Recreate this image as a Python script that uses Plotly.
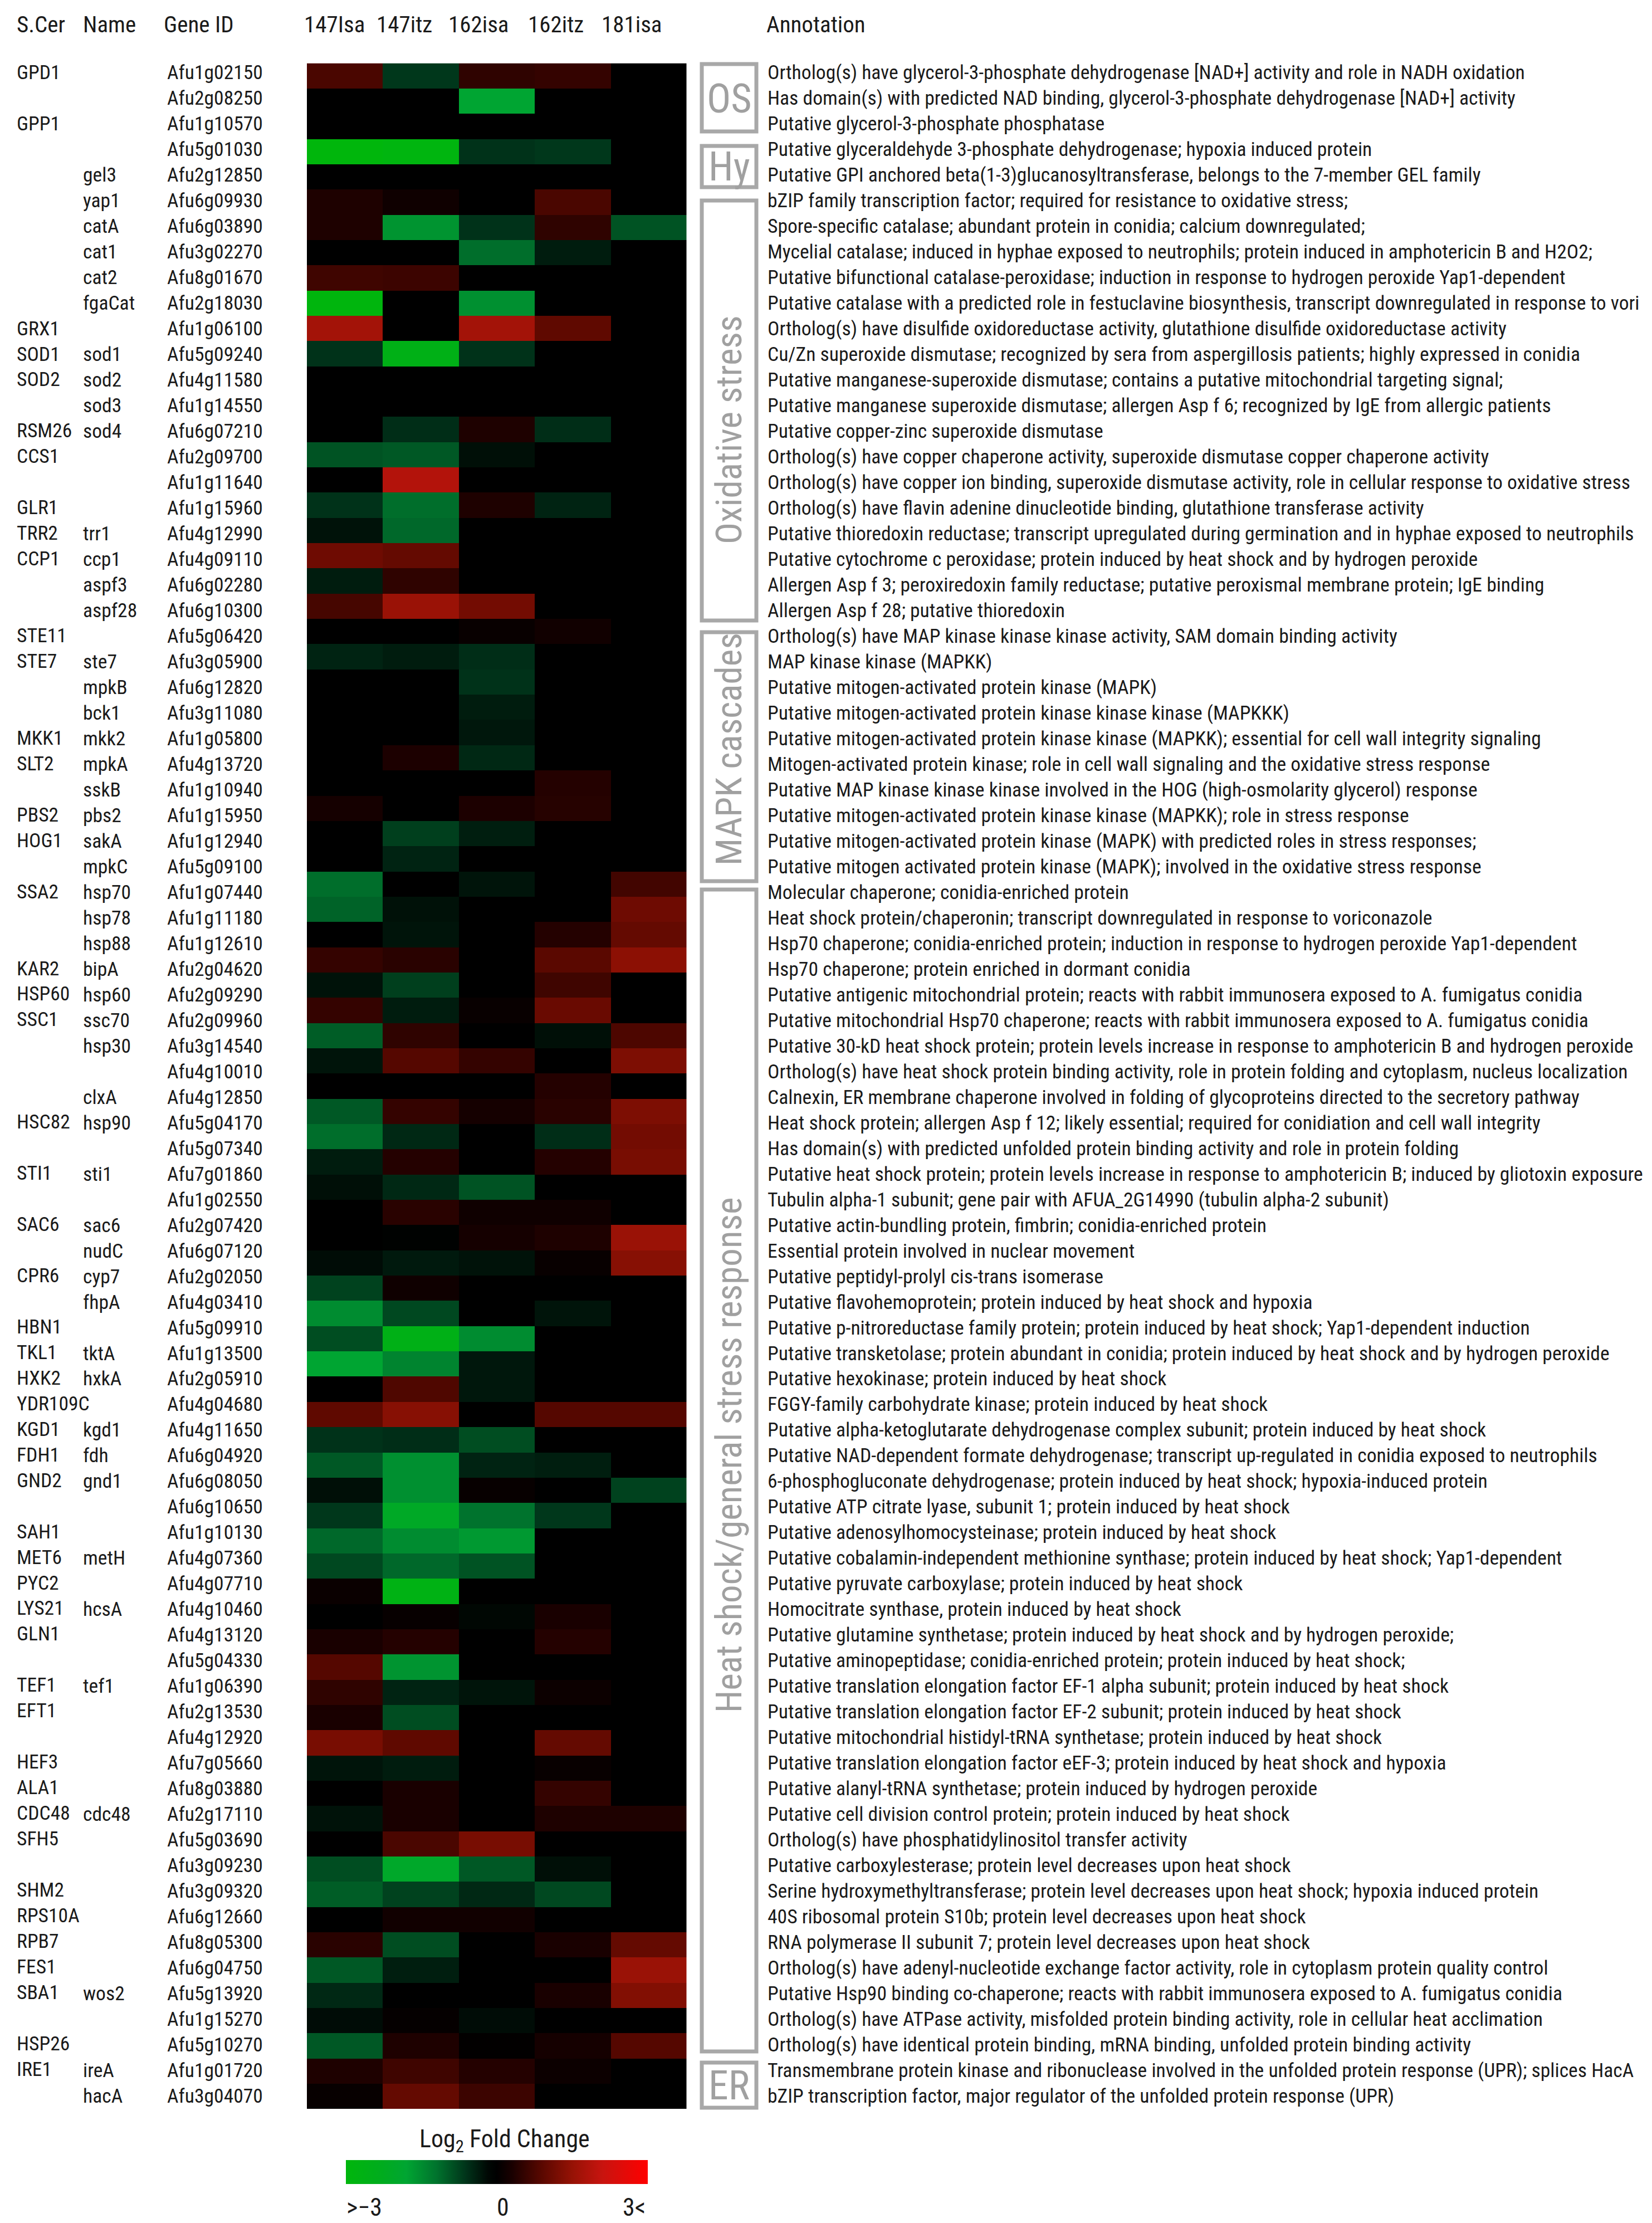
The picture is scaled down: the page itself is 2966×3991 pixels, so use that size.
import plotly.graph_objects as go

W, H = 2966, 3991
FONT = "Roboto Condensed"

columns = ["147Isa", "147itz", "162isa", "162itz", "181isa"]

# log2 fold change per heatmap row (top to bottom), columns as above
fold_change = [
 [.75,-.65,.5,.55,0],[0,0,-1.8,0,0],[0,0,0,0,0],[-3,-2.9,-.6,-.65,0],[0,0,0,0,0],
 [.35,.18,0,.75,0],[.35,-1.6,-.6,.5,-.9],[0,0,-1.15,-.38,0],[.65,.62,0,0,0],[-2.95,0,-1.55,0,0],
 [1.65,0,1.65,.95,0],[-.6,-2.6,-.6,0,0],[0,0,0,0,0],[0,0,0,0,0],[0,-.55,.35,-.55,0],
 [-.9,-.95,-.25,0,0],[0,1.85,0,0,0],[-.6,-1.15,.35,-.45,0],[-.28,-1.1,0,0,0],[1.1,1.0,0,0,0],
 [-.38,.5,0,0,0],[.72,1.55,1.15,0,0],[0,0,.1,.2,0],[-.45,-.38,-.55,0,0],[0,0,-.6,0,0],
 [0,0,-.38,0,0],[0,0,-.33,0,0],[0,.33,-.5,0,0],[0,0,0,.4,0],[.25,0,.33,.42,0],
 [0,-.72,-.4,0,0],[0,-.45,0,0,0],[-1.15,0,-.3,0,.68],[-1.05,-.27,0,0,1.1],[0,-.3,0,.4,1.0],
 [.55,.45,0,.9,1.4],[-.28,-.72,0,.65,0],[.55,-.38,.1,1.05,0],[-1.0,.5,0,-.25,.78],[-.3,.85,.55,0,1.25],
 [0,0,0,.4,0],[-.95,.55,.25,.45,1.25],[-1.15,-.5,0,-.55,1.15],[-.38,.4,0,.4,1.2],[-.25,-.5,-.9,0,0],
 [0,.45,.18,.18,0],[0,-.05,.25,.35,1.55],[-.22,-.35,-.28,.1,1.35],[-.75,.18,0,0,0],[-1.5,-.8,0,-.3,0],
 [-.85,-2.6,-1.5,0,0],[-1.8,-1.4,-.33,0,0],[0,.8,-.33,0,0],[.95,1.35,0,.85,.85],[-.6,-.55,-.85,0,0],
 [-.95,-1.55,-.45,-.4,0],[-.25,-1.55,.08,0,-.75],[-.65,-2.1,-1.2,-.65,0],[-1.1,-1.5,-1.65,0,0],[-.8,-1.1,-.9,0,0],
 [.12,-2.7,0,0,0],[0,.08,-.15,.3,0],[.3,.4,0,.4,0],[.85,-1.6,0,0,0],[.5,-.45,-.3,.15,0],
 [.3,-.85,0,0,0],[1.2,.95,0,1.0,0],[-.3,-.38,0,.1,0],[0,.3,0,.55,0],[-.28,.3,0,.35,.35],
 [0,.75,1.2,0,0],[-.85,-2.0,-.95,-.25,0],[-1.0,-.75,-.5,-.8,0],[0,.2,.2,0,0],[.45,-.85,0,.3,1.0],
 [-.95,-.4,0,0,1.55],[-.5,0,0,.3,1.3],[-.22,.06,-.22,0,0],[-.95,.35,.03,.25,.85],[.35,.65,.4,.15,0],
 [.08,1.0,.62,0,0],
]

scer = ["GPD1","","GPP1","","","","","","","","GRX1","SOD1","SOD2","","RSM26","CCS1","","GLR1","TRR2","CCP1",
 "","","STE11","STE7","","","MKK1","SLT2","","PBS2","HOG1","","SSA2","","","KAR2","HSP60","SSC1","","",
 "","HSC82","","STI1","","SAC6","","CPR6","","HBN1","TKL1","HXK2","YDR109C","KGD1","FDH1","GND2","","SAH1","MET6","PYC2",
 "LYS21","GLN1","","TEF1","EFT1","","HEF3","ALA1","CDC48","SFH5","","SHM2","RPS10A","RPB7","FES1","SBA1","","HSP26","IRE1",""]

names = ["","","","","gel3","yap1","catA","cat1","cat2","fgaCat","","sod1","sod2","sod3","sod4","","","","trr1","ccp1",
 "aspf3","aspf28","","ste7","mpkB","bck1","mkk2","mpkA","sskB","pbs2","sakA","mpkC","hsp70","hsp78","hsp88","bipA","hsp60","ssc70","hsp30","",
 "clxA","hsp90","","sti1","","sac6","nudC","cyp7","fhpA","","tktA","hxkA","","kgd1","fdh","gnd1","","","metH","",
 "hcsA","","","tef1","","","","","cdc48","","","","","","","wos2","","","ireA","hacA"]

gene_ids = ["Afu1g02150","Afu2g08250","Afu1g10570","Afu5g01030","Afu2g12850","Afu6g09930","Afu6g03890","Afu3g02270","Afu8g01670","Afu2g18030",
 "Afu1g06100","Afu5g09240","Afu4g11580","Afu1g14550","Afu6g07210","Afu2g09700","Afu1g11640","Afu1g15960","Afu4g12990","Afu4g09110",
 "Afu6g02280","Afu6g10300","Afu5g06420","Afu3g05900","Afu6g12820","Afu3g11080","Afu1g05800","Afu4g13720","Afu1g10940","Afu1g15950",
 "Afu1g12940","Afu5g09100","Afu1g07440","Afu1g11180","Afu1g12610","Afu2g04620","Afu2g09290","Afu2g09960","Afu3g14540","Afu4g10010",
 "Afu4g12850","Afu5g04170","Afu5g07340","Afu7g01860","Afu1g02550","Afu2g07420","Afu6g07120","Afu2g02050","Afu4g03410","Afu5g09910",
 "Afu1g13500","Afu2g05910","Afu4g04680","Afu4g11650","Afu6g04920","Afu6g08050","Afu6g10650","Afu1g10130","Afu4g07360","Afu4g07710",
 "Afu4g10460","Afu4g13120","Afu5g04330","Afu1g06390","Afu2g13530","Afu4g12920","Afu7g05660","Afu8g03880","Afu2g17110","Afu5g03690",
 "Afu3g09230","Afu3g09320","Afu6g12660","Afu8g05300","Afu6g04750","Afu5g13920","Afu1g15270","Afu5g10270","Afu1g01720","Afu3g04070"]

annotations_text = [
 "Ortholog(s) have glycerol-3-phosphate dehydrogenase [NAD+] activity and role in NADH oxidation",
 "Has domain(s) with predicted NAD binding, glycerol-3-phosphate dehydrogenase [NAD+] activity",
 "Putative glycerol-3-phosphate phosphatase",
 "Putative glyceraldehyde 3-phosphate dehydrogenase; hypoxia induced protein",
 "Putative GPI anchored beta(1-3)glucanosyltransferase, belongs to the 7-member GEL family",
 "bZIP family transcription factor; required for resistance to oxidative stress;",
 "Spore-specific catalase; abundant protein in conidia; calcium downregulated;",
 "Mycelial catalase; induced in hyphae exposed to neutrophils; protein induced in amphotericin B and H2O2;",
 "Putative bifunctional catalase-peroxidase; induction in response to hydrogen peroxide Yap1-dependent",
 "Putative catalase with a predicted role in festuclavine biosynthesis, transcript downregulated in response to vori",
 "Ortholog(s) have disulfide oxidoreductase activity, glutathione disulfide oxidoreductase activity",
 "Cu/Zn superoxide dismutase; recognized by sera from aspergillosis patients; highly expressed in conidia",
 "Putative manganese-superoxide dismutase; contains a putative mitochondrial targeting signal;",
 "Putative manganese superoxide dismutase; allergen Asp f 6; recognized by IgE from allergic patients",
 "Putative copper-zinc superoxide dismutase",
 "Ortholog(s) have copper chaperone activity, superoxide dismutase copper chaperone activity",
 "Ortholog(s) have copper ion binding, superoxide dismutase activity, role in cellular response to oxidative stress",
 "Ortholog(s) have flavin adenine dinucleotide binding, glutathione transferase activity",
 "Putative thioredoxin reductase; transcript upregulated during germination and in hyphae exposed to neutrophils",
 "Putative cytochrome c peroxidase; protein induced by heat shock and by hydrogen peroxide",
 "Allergen Asp f 3; peroxiredoxin family reductase; putative peroxismal membrane protein; IgE binding",
 "Allergen Asp f 28; putative thioredoxin",
 "Ortholog(s) have MAP kinase kinase kinase activity, SAM domain binding activity",
 "MAP kinase kinase (MAPKK)",
 "Putative mitogen-activated protein kinase (MAPK)",
 "Putative mitogen-activated protein kinase kinase kinase (MAPKKK)",
 "Putative mitogen-activated protein kinase kinase (MAPKK); essential for cell wall integrity signaling",
 "Mitogen-activated protein kinase; role in cell wall signaling and the oxidative stress response",
 "Putative MAP kinase kinase kinase involved in the HOG (high-osmolarity glycerol) response",
 "Putative mitogen-activated protein kinase kinase (MAPKK); role in stress response",
 "Putative mitogen-activated protein kinase (MAPK) with predicted roles in stress responses;",
 "Putative mitogen activated protein kinase (MAPK); involved in the oxidative stress response",
 "Molecular chaperone; conidia-enriched protein",
 "Heat shock protein/chaperonin; transcript downregulated in response to voriconazole",
 "Hsp70 chaperone; conidia-enriched protein; induction in response to hydrogen peroxide Yap1-dependent",
 "Hsp70 chaperone; protein enriched in dormant conidia",
 "Putative antigenic mitochondrial protein; reacts with rabbit immunosera exposed to A. fumigatus conidia",
 "Putative mitochondrial Hsp70 chaperone; reacts with rabbit immunosera exposed to A. fumigatus conidia",
 "Putative 30-kD heat shock protein; protein levels increase in response to amphotericin B and hydrogen peroxide",
 "Ortholog(s) have heat shock protein binding activity, role in protein folding and cytoplasm, nucleus localization",
 "Calnexin, ER membrane chaperone involved in folding of glycoproteins directed to the secretory pathway",
 "Heat shock protein; allergen Asp f 12; likely essential; required for conidiation and cell wall integrity",
 "Has domain(s) with predicted unfolded protein binding activity and role in protein folding",
 "Putative heat shock protein; protein levels increase in response to amphotericin B; induced by gliotoxin exposure",
 "Tubulin alpha-1 subunit; gene pair with AFUA_2G14990 (tubulin alpha-2 subunit)",
 "Putative actin-bundling protein, fimbrin; conidia-enriched protein",
 "Essential protein involved in nuclear movement",
 "Putative peptidyl-prolyl cis-trans isomerase",
 "Putative flavohemoprotein; protein induced by heat shock and hypoxia",
 "Putative p-nitroreductase family protein; protein induced by heat shock; Yap1-dependent induction",
 "Putative transketolase; protein abundant in conidia; protein induced by heat shock and by hydrogen peroxide",
 "Putative hexokinase; protein induced by heat shock",
 "FGGY-family carbohydrate kinase; protein induced by heat shock",
 "Putative alpha-ketoglutarate dehydrogenase complex subunit; protein induced by heat shock",
 "Putative NAD-dependent formate dehydrogenase; transcript up-regulated in conidia exposed to neutrophils",
 "6-phosphogluconate dehydrogenase; protein induced by heat shock; hypoxia-induced protein",
 "Putative ATP citrate lyase, subunit 1; protein induced by heat shock",
 "Putative adenosylhomocysteinase; protein induced by heat shock",
 "Putative cobalamin-independent methionine synthase; protein induced by heat shock; Yap1-dependent",
 "Putative pyruvate carboxylase; protein induced by heat shock",
 "Homocitrate synthase, protein induced by heat shock",
 "Putative glutamine synthetase; protein induced by heat shock and by hydrogen peroxide;",
 "Putative aminopeptidase; conidia-enriched protein; protein induced by heat shock;",
 "Putative translation elongation factor EF-1 alpha subunit; protein induced by heat shock",
 "Putative translation elongation factor EF-2 subunit; protein induced by heat shock",
 "Putative mitochondrial histidyl-tRNA synthetase; protein induced by heat shock",
 "Putative translation elongation factor eEF-3; protein induced by heat shock and hypoxia",
 "Putative alanyl-tRNA synthetase; protein induced by hydrogen peroxide",
 "Putative cell division control protein; protein induced by heat shock",
 "Ortholog(s) have phosphatidylinositol transfer activity",
 "Putative carboxylesterase; protein level decreases upon heat shock",
 "Serine hydroxymethyltransferase; protein level decreases upon heat shock; hypoxia induced protein",
 "40S ribosomal protein S10b; protein level decreases upon heat shock",
 "RNA polymerase II subunit 7; protein level decreases upon heat shock",
 "Ortholog(s) have adenyl-nucleotide exchange factor activity, role in cytoplasm protein quality control",
 "Putative Hsp90 binding co-chaperone; reacts with rabbit immunosera exposed to A. fumigatus conidia",
 "Ortholog(s) have ATPase activity, misfolded protein binding activity, role in cellular heat acclimation",
 "Ortholog(s) have identical protein binding, mRNA binding, unfolded protein binding activity",
 "Transmembrane protein kinase and ribonuclease involved in the unfolded protein response (UPR); splices HacA",
 "bZIP transcription factor, major regulator of the unfolded protein response (UPR)",
]

group_names = ["OS", "Hy", "Oxidative stress", "MAPK cascades", "Heat shock/general stress response", "ER"]

colorscale = [
 [0.00, "rgb(0,182,12)"], [0.12, "rgb(0,172,30)"], [0.20, "rgb(0,165,50)"], [0.30, "rgb(0,115,45)"],
 [0.40, "rgb(0,50,25)"], [0.47, "rgb(0,8,4)"], [0.50, "rgb(0,0,0)"], [0.55, "rgb(25,0,0)"],
 [0.65, "rgb(90,8,0)"], [0.75, "rgb(150,18,5)"], [0.85, "rgb(200,20,15)"], [1.00, "rgb(255,0,0)"],
]

def px(x): return x / W
def py(y): return 1 - y / H

HEAT_L, HEAT_R, HEAT_T, HEAT_B = 551, 1232.5, 113.5, 3786
TXT = "#1a1a1a"
GRAY = "#a8a8a8"
GTXT = "#a0a0a0"
FS = 35.6

fig = go.Figure()
fig.add_trace(go.Heatmap(
    z=fold_change, x=columns, y=list(range(len(fold_change))),
    zmin=-3, zmax=3, colorscale=colorscale, xgap=0, ygap=0, hoverinfo="skip",
    colorbar=dict(orientation="h", lenmode="pixels", len=542, thicknessmode="pixels", thickness=43,
                  x=px(621), xanchor="left", y=py(3921), yanchor="bottom", xpad=0, ypad=0,
                  outlinewidth=0, ticks="", showticklabels=False),
))
# invisible trace that holds the label axis (labels have a slightly different row pitch than the cells)
fig.add_trace(go.Scatter(x=[columns[0]], y=[0], yaxis="y2", mode="markers",
                         marker=dict(opacity=0), showlegend=False, hoverinfo="skip"))

LBL_TOP, LBL_PITCH = 130, 45.99
anns = []
def text(x, y, s, size=FS, anchor="left", yref="paper", color=TXT, angle=0, weight=400):
    anns.append(dict(x=x, y=y, xref="paper", yref=yref, text=s, showarrow=False, xanchor=anchor,
                     yanchor="middle", align=anchor, textangle=angle,
                     font=dict(family=FONT, size=size, color=color, weight=weight), borderpad=0))

for i, s in enumerate(scer):
    if s: text(px(29), i - 0.0007 * i, s, yref="y2")
for i, s in enumerate(names):
    if s: text(px(148), i, s, yref="y2")
for i, s in enumerate(gene_ids):
    text(px(298.5), i, s, yref="y2")
for i, s in enumerate(annotations_text):
    text(px(1377), i, s, yref="y2")

hy = 44
for x, s in [(29, "S.Cer"), (148, "Name"), (293, "Gene ID"), (545, "147Isa"), (675, "147itz"),
             (804, "162isa"), (947, "162itz"), (1079, "181isa"), (1375, "Annotation")]:
    text(px(x), py(hy), s, size=41)

# group boxes
boxes = [(115, 236), (262, 336), (360, 1114), (1135, 1582), (1597, 3683), (3703, 3784)]
BOX_L, BOX_R = 1260, 1358
shapes = []
for (t, b) in boxes:
    shapes.append(dict(type="rect", xref="paper", yref="paper", x0=px(BOX_L), x1=px(BOX_R), y0=py(b), y1=py(t),
                       line=dict(color=GRAY, width=7), fillcolor="rgba(0,0,0,0)"))

text(px(1309), py(178), group_names[0], size=72, anchor="center", color=GTXT)
text(px(1309), py(299), group_names[1], size=72, anchor="center", color=GTXT)
text(px(1309), py(772), group_names[2], size=65, anchor="center", color=GTXT, angle=-90)
text(px(1309), py(1345), group_names[3], size=65, anchor="center", color=GTXT, angle=-90)
text(px(1309), py(2612), group_names[4], size=65, anchor="center", color=GTXT, angle=-90)
text(px(1309), py(3744), group_names[5], size=72, anchor="center", color=GTXT)

# legend texts
text(px(906), py(3843), "Log<sub>2</sub> Fold Change", size=44, anchor="center")
text(px(621), py(3963), ">\u22123", size=44)
text(px(903), py(3963), "0", size=44, anchor="center")
text(px(1160), py(3963), "3<", size=44, anchor="right")

fig.update_layout(
    width=W, height=H, autosize=False,
    margin=dict(l=0, r=0, t=0, b=0, pad=0, autoexpand=False),
    paper_bgcolor="white", plot_bgcolor="rgba(0,0,0,0)", showlegend=False,
    xaxis=dict(domain=[px(HEAT_L), px(HEAT_R)], visible=False, type="category", range=[-0.5, 4.5]),
    yaxis=dict(domain=[py(HEAT_B), py(HEAT_T)], visible=False, range=[len(fold_change) - 0.5, -0.5]),
    yaxis2=dict(overlaying="y", visible=False, anchor="x",
                range=[(HEAT_B - LBL_TOP) / LBL_PITCH, (HEAT_T - LBL_TOP) / LBL_PITCH]),
    annotations=anns, shapes=shapes,
)
fig.write_html("out.html", config=dict(displayModeBar=False), post_script="document.body.style.margin='0';")
